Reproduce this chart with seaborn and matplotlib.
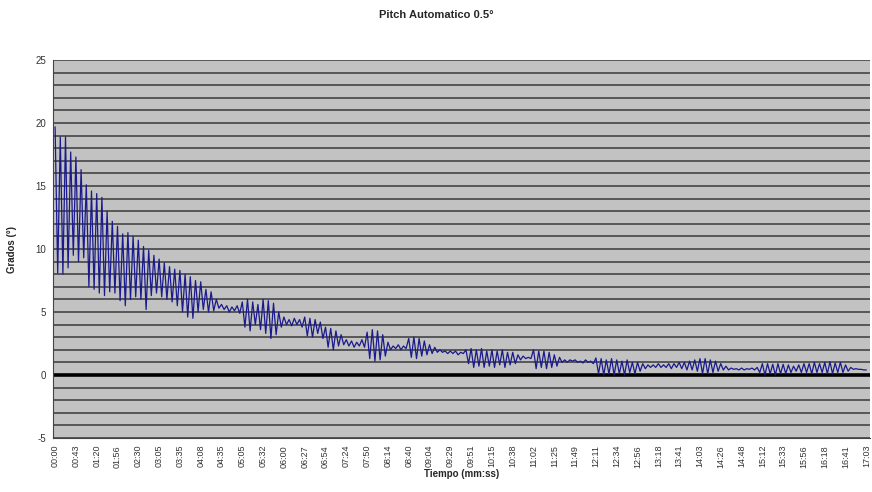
import matplotlib
matplotlib.use("Agg")
import matplotlib.pyplot as plt
import numpy as np
import pandas as pd
import seaborn as sns
from matplotlib.ticker import MultipleLocator

# Tick labels shown on the category axis (every 8th sample)
time_labels = ["00:00", "00:43", "01:20", "01:56", "02:30", "03:05", "03:35", "04:08",
               "04:35", "05:05", "05:32", "06:00", "06:27", "06:54", "07:24", "07:50",
               "08:14", "08:40", "09:04", "09:29", "09:51", "10:15", "10:38", "11:02",
               "11:25", "11:49", "12:11", "12:34", "12:56", "13:18", "13:41", "14:03",
               "14:26", "14:48", "15:12", "15:33", "15:56", "16:18", "16:41", "17:03"]

# Pitch angle (degrees), 8 samples per label interval
pitch = [
    19.7, 8.1, 18.9, 8.0, 18.9, 8.5, 17.7, 9.5,
    17.3, 9.0, 16.3, 9.3, 15.1, 7.0, 14.6, 6.8,
    14.4, 6.5, 14.1, 6.3, 13.0, 6.6, 12.2, 6.5,
    11.8, 5.9, 11.2, 5.5, 11.3, 6.0, 11.0, 6.2,
    10.7, 6.0, 10.2, 5.2, 9.9, 6.3, 9.5, 6.5,
    9.2, 6.2, 8.9, 6.0, 8.6, 5.8, 8.4, 5.5,
    8.3, 5.0, 8.0, 4.6, 7.8, 4.5, 7.5, 5.0,
    7.4, 5.2, 6.8, 5.0, 6.6, 5.1, 6.0, 5.3,
    5.6, 5.2, 5.5, 5.0, 5.4, 5.1, 5.5, 4.9,
    5.8, 3.8, 6.0, 3.5, 5.8, 4.0, 5.6, 3.6,
    6.0, 3.3, 5.9, 2.9, 5.7, 3.2, 5.0, 3.8,
    4.6, 4.0, 4.4, 3.9, 4.5, 4.0, 4.4, 3.8,
    4.6, 3.1, 4.5, 3.0, 4.4, 3.3, 4.2, 2.9,
    3.8, 2.2, 3.7, 2.0, 3.5, 2.3, 3.2, 2.4,
    2.8, 2.3, 2.7, 2.2, 2.6, 2.3, 2.8, 2.2,
    3.4, 1.3, 3.6, 1.1, 3.5, 1.2, 3.2, 1.5,
    2.6, 2.0, 2.3, 2.1, 2.4, 2.0, 2.3, 2.1,
    2.9, 1.4, 3.0, 1.3, 2.9, 1.5, 2.7, 1.6,
    2.4, 1.7, 2.2, 1.8, 2.0, 1.8, 1.9, 1.7,
    1.9, 1.7, 1.9, 1.6, 1.8, 1.7, 2.0, 0.9,
    2.1, 0.6, 2.0, 0.7, 2.1, 0.6, 1.9, 0.7,
    2.0, 0.6, 1.9, 0.8, 2.0, 0.6, 1.8, 0.8,
    1.8, 0.9, 1.6, 1.2, 1.5, 1.3, 1.4, 1.3,
    2.0, 0.5, 1.9, 0.6, 1.9, 0.5, 1.8, 0.6,
    1.6, 0.7, 1.4, 1.0, 1.2, 1.0, 1.2, 1.1,
    1.2, 1.0, 1.1, 0.95, 1.2, 1.0, 1.1, 0.9,
    1.35, 0.1, 1.3, 0.0, 1.2, 0.1, 1.3, 0.0,
    1.2, 0.1, 1.1, 0.0, 1.2, 0.2, 1.0, 0.1,
    1.0, 0.3, 0.9, 0.5, 0.8, 0.6, 0.8, 0.6,
    0.9, 0.6, 0.8, 0.6, 0.9, 0.5, 0.9, 0.6,
    1.0, 0.5, 1.0, 0.4, 1.1, 0.4, 1.2, 0.3,
    1.3, 0.1, 1.3, 0.1, 1.2, 0.2, 1.1, 0.3,
    0.9, 0.4, 0.7, 0.4, 0.55, 0.45, 0.5, 0.4,
    0.55, 0.4, 0.5, 0.45, 0.55, 0.4, 0.6, 0.2,
    0.9, 0.0, 0.9, 0.1, 0.85, 0.0, 0.9, 0.1,
    0.85, 0.1, 0.8, 0.2, 0.7, 0.3, 0.8, 0.2,
    0.9, 0.2, 0.9, 0.1, 1.0, 0.2, 0.9, 0.2,
    1.0, 0.1, 1.05, 0.1, 0.95, 0.2, 1.0, 0.2,
    0.8, 0.3, 0.6, 0.45, 0.5, 0.45, 0.45, 0.4,
    0.4,
]
samples_per_label = 8

df = pd.DataFrame({"sample": np.arange(len(pitch)), "pitch": pitch})

sns.set_style("white")
plt.rcParams["font.family"] = ["Liberation Sans", "DejaVu Sans"]
plt.rcParams["axes.unicode_minus"] = False

fig = plt.figure(figsize=(8.72, 4.92), dpi=100)
ax = fig.add_axes([0.0608, 0.1098, 0.9372, 0.7682])
ax.set_facecolor("#c2c2c2")

sns.lineplot(data=df, x="sample", y="pitch", ax=ax, color="#1a1a8c", linewidth=0.9, zorder=3)

ax.set_ylim(-5, 25)
ax.set_xlim(-0.8, len(pitch) - 1 + 1.5)
ax.yaxis.set_major_locator(MultipleLocator(5))
ax.yaxis.set_minor_locator(MultipleLocator(1))
ax.grid(True, axis="y", which="both", color="#3a3a3a", linewidth=1.1, zorder=1)
ax.grid(False, axis="x")
ax.axhline(0, color="black", linewidth=2.6, zorder=2)

tick_pos = np.arange(0, len(pitch), samples_per_label)
ax.set_xticks(tick_pos)
ax.set_xticklabels(time_labels, rotation=90, fontsize=6.5, color="#333333")
ax.tick_params(axis="y", which="major", labelsize=7, length=3, width=0.8, colors="#333333", pad=2)
ax.tick_params(axis="y", which="minor", length=0)
ax.tick_params(axis="x", length=3, width=0.8, pad=2)

for side in ["top", "right"]:
    ax.spines[side].set_visible(False)
ax.spines["left"].set_color("#444444")
ax.spines["left"].set_linewidth(0.8)
ax.spines["bottom"].set_color("#444444")
ax.spines["bottom"].set_linewidth(0.8)

ax.set_xlabel("Tiempo (mm:ss)", fontsize=7, fontweight="bold", labelpad=1)
ax.set_ylabel("Grados (°)", fontsize=7, fontweight="bold", labelpad=13)
fig.text(0.5, 0.97, "Pitch Automatico 0.5°", ha="center", va="center", fontsize=8, fontweight="bold")

fig.savefig("out.png", dpi=100, facecolor="white")
